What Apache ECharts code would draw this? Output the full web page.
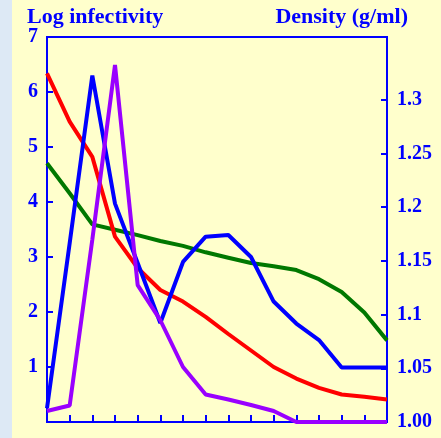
<!DOCTYPE html>
<html>
<head>
<meta charset="utf-8">
<script src="https://cdn.jsdelivr.net/npm/echarts@6/dist/echarts.min.js"></script>
<style>
html,body{margin:0;padding:0;background:#FFFFCC;}
#strip{position:absolute;left:0;top:0;width:12px;height:438px;background:#DDE9F5;}
#chart{position:absolute;left:0;top:0;width:441px;height:438px;}
</style>
</head>
<body>
<div id="strip"></div>
<div id="chart"></div>
<script>
// Fraction numbers (x categories)
const fractions = ['1','2','3','4','5','6','7','8','9','10','11','12','13','14','15','16'];
// Log infectivity series (left axis)
const redValues = [6.34, 5.46, 4.82, 3.37, 2.80, 2.40, 2.19, 1.91, 1.60, 1.30, 1.00, 0.79, 0.62, 0.50, 0.46, 0.41];
const blueValues = [0.25, 3.25, 6.30, 3.97, 2.89, 1.80, 2.91, 3.37, 3.40, 3.00, 2.19, 1.79, 1.49, 0.99, 0.99, 0.99];
const purpleValues = [0.20, 0.30, 3.32, 6.49, 2.49, 1.85, 1.00, 0.50, 0.41, 0.31, 0.20, 0, 0, 0, 0, 0];
// Density series (right axis, g/ml)
const greenDensity = [1.241, 1.213, 1.184, 1.179, 1.174, 1.1685, 1.164, 1.158, 1.153, 1.148, 1.145, 1.1415, 1.133, 1.121, 1.102, 1.076];
// Tick labels
const leftTicks = [1, 2, 3, 4, 5, 6, 7];
const rightTicks = [1.00, 1.05, 1.10, 1.15, 1.20, 1.25, 1.30];

const BLUE = '#0000FF';
const labelFont = {color: BLUE, fontFamily: 'Liberation Serif', fontWeight: 'bold', fontSize: 20, padding: [3, 0, 0, 0]};

const chart = echarts.init(document.getElementById('chart'), null, {renderer: 'canvas'});
chart.setOption({
  backgroundColor: 'transparent',
  animation: false,
  grid: {left: 47, right: 54, top: 37, bottom: 16, show: true, borderColor: BLUE, borderWidth: 2, backgroundColor: 'transparent'},
  graphic: [
    {type: 'text', left: 27, top: 6, style: {text: 'Log infectivity', fill: BLUE, font: 'bold 22px "Liberation Serif"'}},
    {type: 'text', right: 33, top: 6, style: {text: 'Density (g/ml)', fill: BLUE, font: 'bold 22px "Liberation Serif"'}}
  ],
  xAxis: {
    type: 'category', data: fractions, boundaryGap: false,
    axisLine: {lineStyle: {color: BLUE, width: 2}},
    axisTick: {inside: true, length: 7, interval: 0, lineStyle: {color: BLUE, width: 2}},
    axisLabel: {show: false},
    splitLine: {show: false}
  },
  yAxis: [
    {
      type: 'value', min: 0, max: 7, interval: 1, position: 'left',
      axisLine: {show: true, lineStyle: {color: BLUE, width: 2}},
      axisTick: {show: true, inside: true, length: 6, customValues: leftTicks, lineStyle: {color: BLUE, width: 2}},
      axisLabel: Object.assign({margin: 9, customValues: leftTicks}, labelFont),
      splitLine: {show: false}
    },
    {
      type: 'value', min: 1.0, max: 1.3585, position: 'right',
      axisLine: {show: true, lineStyle: {color: BLUE, width: 2}},
      axisTick: {show: true, inside: true, length: 6, customValues: rightTicks, lineStyle: {color: BLUE, width: 2}},
      axisLabel: Object.assign({margin: 10, customValues: rightTicks,
        formatter: v => Math.abs(v - 1) < 1e-9 ? '1.00' : String(+v.toFixed(2))}, labelFont),
      splitLine: {show: false}
    }
  ],
  series: [
    {type: 'line', yAxisIndex: 1, data: greenDensity, symbol: 'none', clip: false, lineStyle: {color: '#007800', width: 4}},
    {type: 'line', yAxisIndex: 0, data: redValues, symbol: 'none', clip: false, lineStyle: {color: '#FF0000', width: 4}},
    {type: 'line', yAxisIndex: 0, data: blueValues, symbol: 'none', clip: false, lineStyle: {color: '#0000FF', width: 4}},
    {type: 'line', yAxisIndex: 0, data: purpleValues, symbol: 'none', clip: false, lineStyle: {color: '#9900FF', width: 4}}
  ]
});
</script>
</body>
</html>
